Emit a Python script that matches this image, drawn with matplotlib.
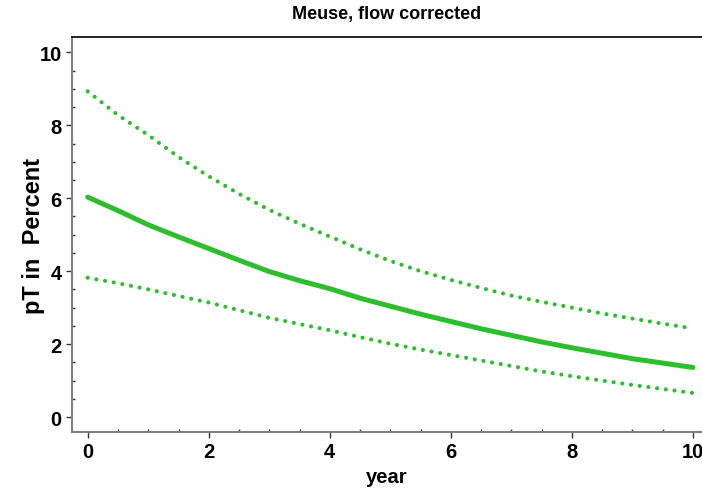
import matplotlib
matplotlib.use("Agg")
import matplotlib.pyplot as plt
from matplotlib.ticker import MultipleLocator

years = [0.0, 0.5, 1.0, 1.5, 2.0, 2.5, 3.0, 3.5, 4.0, 4.5, 5.0,
         5.5, 6.0, 6.5, 7.0, 7.5, 8.0, 8.5, 9.0, 9.5, 10.0]
pt_mean = [6.03, 5.66, 5.27, 4.94, 4.62, 4.30, 3.99, 3.74, 3.52, 3.26, 3.04,
           2.82, 2.62, 2.42, 2.24, 2.06, 1.90, 1.75, 1.60, 1.48, 1.36]
pt_upper = [8.93, 8.28, 7.73, 7.13, 6.60, 6.12, 5.68, 5.30, 4.95, 4.60, 4.28,
            4.00, 3.76, 3.54, 3.33, 3.16, 3.00, 2.84, 2.70, 2.56, 2.43]
pt_lower = [3.82, 3.67, 3.50, 3.32, 3.14, 2.93, 2.72, 2.55, 2.38, 2.19, 2.01,
            1.85, 1.70, 1.55, 1.40, 1.25, 1.12, 1.00, 0.88, 0.77, 0.66]

title = "Meuse, flow corrected"
xlabel = "year"
ylabel = "pT in  Percent"

plt.rcParams['font.family'] = ['Liberation Sans', 'DejaVu Sans']
green = "#2dbe2d"

fig = plt.figure(figsize=(7.02, 4.89), dpi=100)
ax = fig.add_axes([72/702, 56/489, 630/702, (433-38)/489])

ax.plot(years, pt_mean, color=green, lw=3.6, solid_capstyle='round')
ax.plot(years, pt_upper, color=green, lw=3.0, linestyle=(0, (0.01, 2.1)),
        dash_capstyle='round')
ax.plot(years, pt_lower, color=green, lw=3.0, linestyle=(0, (0.01, 2.1)),
        dash_capstyle='round')

ax.set_xlim(-0.26, 10.15)
ax.set_ylim(-0.41, 10.42)
ax.xaxis.set_major_locator(MultipleLocator(2))
ax.xaxis.set_minor_locator(MultipleLocator(0.5))
ax.yaxis.set_major_locator(MultipleLocator(2))
ax.yaxis.set_minor_locator(MultipleLocator(0.5))

for s in ['left', 'bottom']:
    ax.spines[s].set_color('#808080')
    ax.spines[s].set_linewidth(1.5)
ax.spines['top'].set_color('black')
ax.spines['top'].set_linewidth(1.2)
ax.spines['right'].set_visible(False)

ax.tick_params(which='major', direction='out', length=4.3, width=1.0,
               color='#333333', labelsize=14.5, pad=3)
ax.tick_params(which='minor', direction='in', length=2, width=1.0, color='#333333')
for lab in ax.get_xticklabels() + ax.get_yticklabels():
    lab.set_fontweight('bold')

ax.set_title(title, fontsize=13, fontweight='bold', pad=14)
ax.set_xlabel(xlabel, fontsize=14.5, fontweight='bold', labelpad=4)
ax.set_ylabel(ylabel, fontsize=17, fontweight='bold')
ax.yaxis.set_label_coords(-0.043, 0.5)

fig.savefig("out.png", dpi=100)
